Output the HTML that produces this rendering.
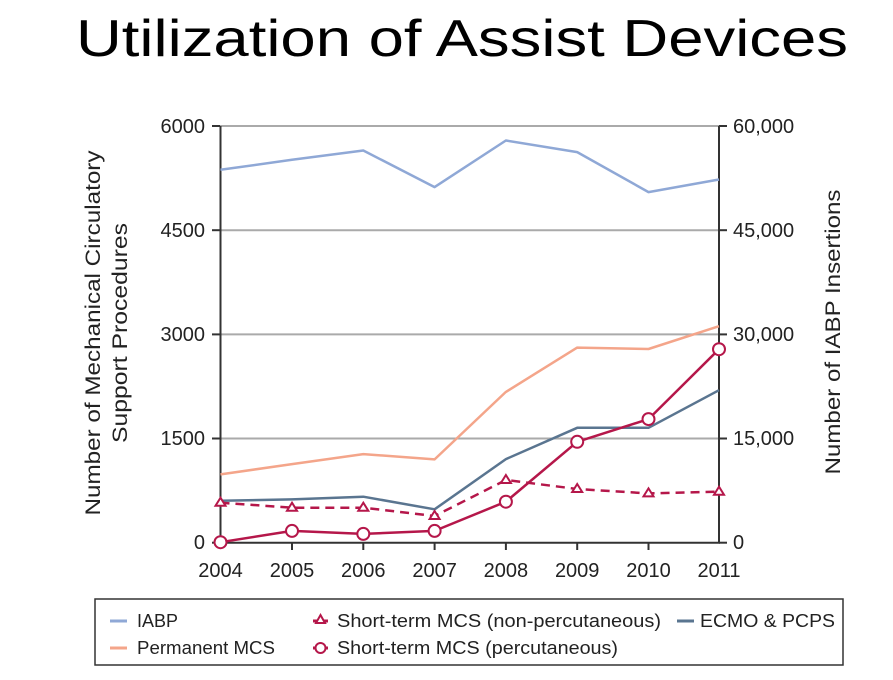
<!DOCTYPE html>
<html><head><style>body{margin:0;background:#fff}svg{display:block}</style></head><body>
<svg width="893" height="680" xmlns="http://www.w3.org/2000/svg" font-family="Liberation Sans, sans-serif">
<text x="462" y="56" font-size="52" text-anchor="middle" textLength="772" lengthAdjust="spacingAndGlyphs" fill="#000">Utilization of Assist Devices</text>
<g stroke="#aaa" stroke-width="2">
<line x1="220" y1="126" x2="720" y2="126"/><line x1="220" y1="230.2" x2="720" y2="230.2"/>
<line x1="220" y1="334.4" x2="720" y2="334.4"/><line x1="220" y1="438.5" x2="720" y2="438.5"/>
</g>
<g stroke="#333" stroke-width="2">
<line x1="220.5" y1="126" x2="220.5" y2="543"/><line x1="719" y1="126" x2="719" y2="543"/>
<line x1="220" y1="542.7" x2="720" y2="542.7"/>
<line x1="212" y1="126" x2="220" y2="126"/><line x1="212" y1="230.2" x2="220" y2="230.2"/><line x1="212" y1="334.4" x2="220" y2="334.4"/><line x1="212" y1="438.5" x2="220" y2="438.5"/><line x1="212" y1="542.7" x2="220" y2="542.7"/>
<line x1="719" y1="126" x2="727" y2="126"/><line x1="719" y1="230.2" x2="727" y2="230.2"/><line x1="719" y1="334.4" x2="727" y2="334.4"/><line x1="719" y1="438.5" x2="727" y2="438.5"/><line x1="719" y1="542.7" x2="727" y2="542.7"/>
<line x1="292" y1="542" x2="292" y2="550"/><line x1="363.3" y1="542" x2="363.3" y2="550"/><line x1="434.6" y1="542" x2="434.6" y2="550"/><line x1="505.9" y1="542" x2="505.9" y2="550"/><line x1="577.2" y1="542" x2="577.2" y2="550"/><line x1="648.5" y1="542" x2="648.5" y2="550"/>
</g>
<g font-size="20" fill="#222" text-anchor="end">
<text x="205" y="133">6000</text><text x="205" y="237">4500</text><text x="205" y="341">3000</text><text x="205" y="445">1500</text><text x="205" y="549">0</text>
</g>
<g font-size="20" fill="#222">
<text x="733" y="133">60,000</text><text x="733" y="237">45,000</text><text x="733" y="341">30,000</text><text x="733" y="445">15,000</text><text x="733" y="549">0</text>
</g>
<g font-size="20" fill="#222" text-anchor="middle">
<text x="220.5" y="577">2004</text><text x="292" y="577">2005</text><text x="363.3" y="577">2006</text><text x="434.6" y="577">2007</text><text x="505.9" y="577">2008</text><text x="577.2" y="577">2009</text><text x="648.5" y="577">2010</text><text x="719" y="577">2011</text>
</g>
<g font-size="21" fill="#222" text-anchor="middle">
<text transform="translate(100,333) rotate(-90)" textLength="365" lengthAdjust="spacingAndGlyphs">Number of Mechanical Circulatory</text>
<text transform="translate(127,333) rotate(-90)" textLength="220" lengthAdjust="spacingAndGlyphs">Support Procedures</text>
<text transform="translate(840,332) rotate(-90)" textLength="285" lengthAdjust="spacingAndGlyphs">Number of IABP Insertions</text>
</g>
<g fill="none" stroke-width="2.5" stroke-linejoin="round">
<polyline stroke="#8fa8d6" points="220.5,169.8 292,159.8 363.3,150.5 434.6,187.1 505.9,140.5 577.2,152.1 648.5,192.1 719,179.5"/>
<polyline stroke="#f4a58a" points="220.5,474.4 292,464.1 363.3,454.1 434.6,459.4 505.9,391.9 577.2,347.6 648.5,349 719,326.2"/>
<polyline stroke="#5a7590" points="220.5,500.7 292,499.4 363.3,496.7 434.6,509.3 505.9,459.1 577.2,427.8 648.5,427.8 719,390.2"/>
<polyline stroke="#b5174a" stroke-dasharray="9,6" points="220.5,502.7 292,507.7 363.3,507.7 434.6,516 505.9,480 577.2,489 648.5,493.4 719,491.7"/>
<polyline stroke="#b5174a" points="220.5,542.2 292,530.9 363.3,533.9 434.6,530.9 505.9,501.7 577.2,441.8 648.5,419.1 719,349.2"/>
</g>
<g fill="#fff" stroke="#b5174a" stroke-width="2">
<circle cx="220.5" cy="542.2" r="6"/><circle cx="292" cy="530.9" r="6"/><circle cx="363.3" cy="533.9" r="6"/><circle cx="434.6" cy="530.9" r="6"/><circle cx="505.9" cy="501.7" r="6"/><circle cx="577.2" cy="441.8" r="6"/><circle cx="648.5" cy="419.1" r="6"/><circle cx="719" cy="349.2" r="6"/>
<path d="M220.5,497.7l5,8h-10z M292,502.7l5,8h-10z M363.3,502.7l5,8h-10z M434.6,511l5,8h-10z M505.9,475l5,8h-10z M577.2,484l5,8h-10z M648.5,488.4l5,8h-10z M719,486.7l5,8h-10z"/>
</g>
<rect x="95" y="599" width="748" height="66" fill="none" stroke="#333" stroke-width="1.5"/>
<g stroke-width="3">
<line x1="110" y1="621" x2="127" y2="621" stroke="#8fa8d6"/>
<line x1="110" y1="648" x2="127" y2="648" stroke="#f4a58a"/>
<line x1="677" y1="621" x2="694" y2="621" stroke="#5a7590"/>
<line x1="313" y1="621" x2="328" y2="621" stroke="#b5174a"/>
<line x1="313" y1="648" x2="328" y2="648" stroke="#b5174a"/>
</g>
<path d="M320.5,615l4.5,8h-9z" fill="#fff" stroke="#b5174a" stroke-width="2"/>
<circle cx="320.5" cy="648" r="5" fill="#fff" stroke="#b5174a" stroke-width="2"/>
<g font-size="18" fill="#222">
<text x="137" y="627" textLength="41" lengthAdjust="spacingAndGlyphs">IABP</text>
<text x="137" y="654" textLength="138" lengthAdjust="spacingAndGlyphs">Permanent MCS</text>
<text x="337" y="627" textLength="324" lengthAdjust="spacingAndGlyphs">Short-term MCS (non-percutaneous)</text>
<text x="337" y="654" textLength="281" lengthAdjust="spacingAndGlyphs">Short-term MCS (percutaneous)</text>
<text x="700" y="627" textLength="135" lengthAdjust="spacingAndGlyphs">ECMO &amp; PCPS</text>
</g>
</svg>
</body></html>
